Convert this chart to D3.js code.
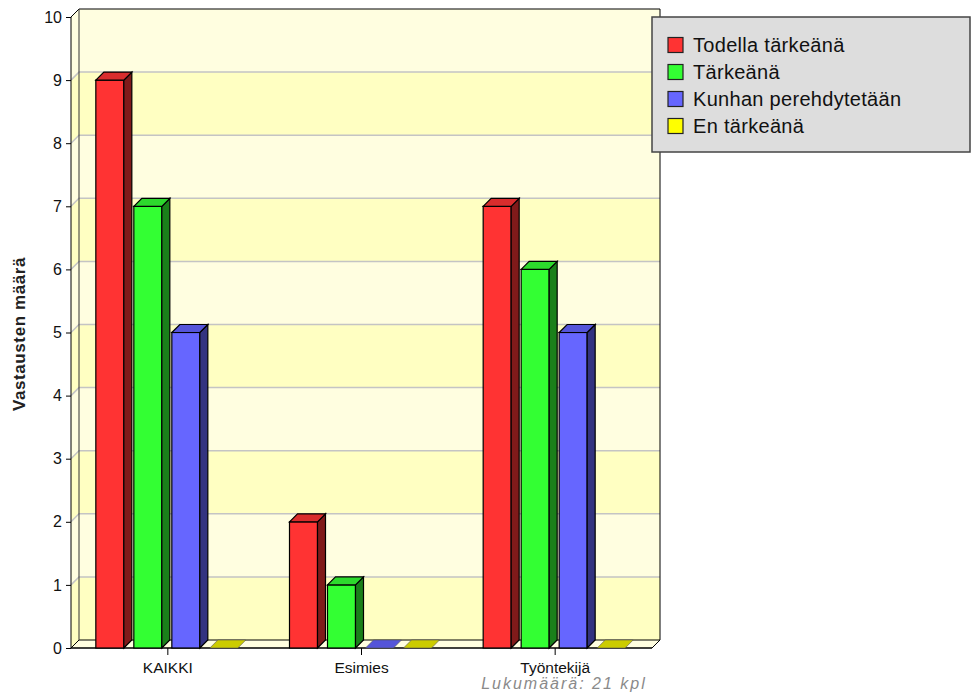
<!DOCTYPE html>
<html>
<head>
<meta charset="utf-8">
<script src="https://cdn.jsdelivr.net/npm/d3@7"></script>
<style>
  html, body { margin: 0; padding: 0; background: #ffffff; }
  svg { display: block; }
  text { font-family: "Liberation Sans", Arial, sans-serif; }
</style>
</head>
<body>
<svg id="chart" width="971" height="693"></svg>
<script>
// Answer counts per group
const categories = ["KAIKKI", "Esimies", "Työntekijä"];
const seriesNames = ["Todella tärkeänä", "Tärkeänä", "Kunhan perehdytetään", "En tärkeänä"];
const todellaTarkeana = [9, 2, 7];
const tarkeana = [7, 1, 6];
const kunhanPerehdytetaan = [5, 0, 5];
const enTarkeana = [0, 0, 0];
const yTicks = [0, 1, 2, 3, 4, 5, 6, 7, 8, 9, 10];
const yTitle = "Vastausten määrä";
const countNote = "Lukumäärä: 21 kpl";

const seriesValues = [todellaTarkeana, tarkeana, kunhanPerehdytetaan, enTarkeana];
const palette = [
  { front: "#ff3333", top: "#d92d2d", side: "#801a1a" },
  { front: "#33ff33", top: "#2dd92d", side: "#1a801a" },
  { front: "#6666ff", top: "#5555d9", side: "#333380" },
  { front: "#ffff00", top: "#cccc00", side: "#808000" }
];

const svg = d3.select("#chart");
const plotLeft = 71, plotRight = 652, plotTop = 17, plotBottom = 648;
const depth = 8;

const y = d3.scaleLinear().domain([0, 10]).range([plotBottom, plotTop]);
const x = d3.scaleBand().domain(categories).range([plotLeft, plotRight]).padding(0);
const xs = d3.scaleBand().domain(seriesNames).range([-72, 70]).paddingInner(10 / 38).paddingOuter(0);

// Walls: alternating bands on back wall and left side wall
const bands = svg.append("g");
for (let i = 0; i < 10; i++) {
  const fill = (i % 2 === 0) ? "#ffffc2" : "#fffee0";
  const y0 = y(i), y1 = y(i + 1);
  bands.append("rect")
    .attr("x", plotLeft + depth).attr("y", y1 - depth)
    .attr("width", plotRight - plotLeft).attr("height", y0 - y1)
    .attr("fill", fill);
  bands.append("path")
    .attr("d", `M${plotLeft},${y0}L${plotLeft + depth},${y0 - depth}L${plotLeft + depth},${y1 - depth}L${plotLeft},${y1}Z`)
    .attr("fill", fill);
}

// Grid lines across the back wall plus the diagonal on the side wall
const grid = svg.append("g").attr("stroke", "#c4c4c4").attr("stroke-width", 1.5).attr("fill", "none");
yTicks.filter(d => d > 0 && d < 10).forEach(d => {
  grid.append("path")
    .attr("d", `M${plotLeft},${y(d)}L${plotLeft + depth},${y(d) - depth}L${plotRight + depth},${y(d) - depth}`);
});

// Floor
svg.append("path")
  .attr("d", `M${plotLeft},${plotBottom}L${plotLeft + depth},${plotBottom - depth}L${plotRight + depth},${plotBottom - depth}L${plotRight},${plotBottom}Z`)
  .attr("fill", "#fffee0").attr("stroke", "#000").attr("stroke-width", 1);

// Wall outlines
const frame = svg.append("g").attr("stroke", "#000").attr("fill", "none").attr("stroke-width", 1);
frame.append("path")
  .attr("d", `M${plotLeft},${plotTop}L${plotLeft + depth},${plotTop - depth}L${plotRight + depth},${plotTop - depth}L${plotRight + depth},${plotBottom - depth}`);
frame.append("path")
  .attr("d", `M${plotLeft + depth},${plotTop - depth}L${plotLeft + depth},${plotBottom - depth}`)
  .attr("stroke", "#333");

// Y axis
const yAxis = svg.append("g")
  .attr("transform", `translate(${plotLeft},0)`)
  .call(d3.axisLeft(y).tickValues(yTicks).tickSize(5).tickPadding(4).tickFormat(d3.format("d")));
yAxis.select(".domain").attr("stroke", "#000").attr("d", `M0,${plotBottom}V${plotTop}`);
yAxis.selectAll("text").attr("font-size", 16).attr("fill", "#111");

// X axis
const xAxis = svg.append("g")
  .attr("transform", `translate(0,${plotBottom})`)
  .call(d3.axisBottom(x).tickSize(7).tickPadding(7));
xAxis.select(".domain").attr("d", `M${plotLeft},0H${plotRight}`).attr("stroke", "#000");
xAxis.selectAll("text").attr("font-size", 15.5).attr("fill", "#111");

// Bars
const barW = xs.bandwidth();
seriesNames.forEach((name, si) => {
  const g = svg.append("g");
  const c = palette[si];
  categories.forEach((cat, ci) => {
    const v = seriesValues[si][ci];
    const x0 = x(cat) + x.bandwidth() / 2 + xs(name);
    const x1 = x0 + barW;
    const yb = y(0), yt = y(v);
    if (v > 0) {
      g.append("rect")
        .attr("x", x0).attr("y", yt).attr("width", barW).attr("height", yb - yt)
        .attr("fill", c.front).attr("stroke", "#000").attr("stroke-width", 1.2);
      g.append("path")
        .attr("d", `M${x1},${yb}L${x1 + depth},${yb - depth}L${x1 + depth},${yt - depth}L${x1},${yt}Z`)
        .attr("fill", c.side).attr("stroke", "#000").attr("stroke-width", 1.2);
    }
    g.append("path")
      .attr("d", `M${x0},${yt}L${x0 + depth},${yt - depth}L${x1 + depth},${yt - depth}L${x1},${yt}Z`)
      .attr("fill", c.top).attr("stroke", v > 0 ? "#000" : "#555").attr("stroke-width", v > 0 ? 1.2 : 0.6);
  });
});

// Y axis title
svg.append("text")
  .attr("transform", "translate(25,334) rotate(-90)")
  .attr("text-anchor", "middle")
  .attr("font-size", 17).attr("font-weight", "bold").attr("fill", "#222")
  .attr("letter-spacing", 0.6)
  .text(yTitle);

// Count note
svg.append("text")
  .attr("x", 564).attr("y", 689)
  .attr("text-anchor", "middle")
  .attr("font-size", 16).attr("font-style", "italic").attr("fill", "#8a8a8a")
  .attr("letter-spacing", 2)
  .text(countNote);

// Legend
const legend = svg.append("g");
legend.append("rect")
  .attr("x", 652).attr("y", 17).attr("width", 318).attr("height", 135)
  .attr("fill", "#dddddd").attr("stroke", "#444").attr("stroke-width", 1.5);
seriesNames.forEach((name, i) => {
  const ry = 45 + i * 27;
  legend.append("rect")
    .attr("x", 668).attr("y", ry - 7.5).attr("width", 15).attr("height", 15)
    .attr("fill", palette[i].front).attr("stroke", "#222").attr("stroke-width", 1.2);
  legend.append("text")
    .attr("x", 693).attr("y", ry + 7)
    .attr("font-size", 20).attr("fill", "#111")
    .attr("letter-spacing", 0.3)
    .text(name);
});
</script>
</body>
</html>
